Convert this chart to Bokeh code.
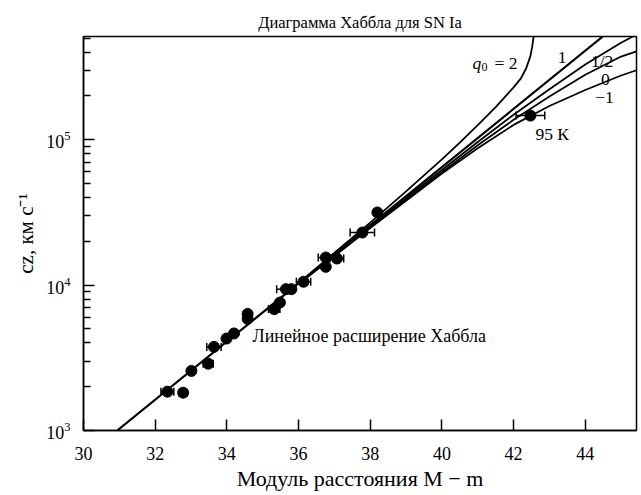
from bokeh.plotting import figure
from bokeh.models import Label, Whisker, ColumnDataSource, FixedTicker, TeeHead
from bokeh.embed import file_html
from bokeh.resources import INLINE

# ---- data ----
sn_mu = [32.34, 32.78, 33.01, 33.48, 33.64, 33.99, 34.20, 34.58, 34.58, 35.32,
         35.48, 35.65, 35.80, 36.14, 36.76, 36.76, 37.07, 37.78, 38.20, 42.47]
sn_cz = [1850, 1820, 2570, 2880, 3760, 4290, 4650, 6340, 5860, 6840,
         7590, 9380, 9380, 10550, 13360, 15490, 15240, 23000, 31600, 146600]
sn_err = [0.18, 0.11, 0, 0.14, 0.2, 0, 0, 0, 0, 0.16,
          0, 0.26, 0, 0.2, 0, 0.21, 0.19, 0.34, 0, 0.4]

# linear Hubble expansion (coincides with q0 = 1)
lin_mu = [30.94, 44.49]
lin_cz = [1000, 513000]

q_half_mu = [36, 38, 40, 41, 42, 43, 44, 45, 45.33]
q_half_cz = [10230, 25350, 61940, 96390, 148600, 222300, 328900, 464500, 512900]

q_zero_mu = [36, 38, 40, 41, 42, 43, 44, 45, 45.43]
q_zero_cz = [10210, 24950, 59840, 91620, 137100, 198200, 279900, 373300, 405500]

q_neg_mu = [36, 38, 40, 41, 42, 43, 44, 45, 45.43]
q_neg_cz = [10160, 24660, 58480, 87500, 126500, 170600, 219800, 276700, 300600]

q_two_mu = [36, 38, 39, 40, 40.5, 41, 41.5, 42, 42.2, 42.35, 42.47, 42.52, 42.56]
q_two_cz = [10330, 26920, 44160, 73280, 95500, 125900, 167900, 229100, 263000,
            309000, 375800, 436500, 512900]

x_ticks = [30, 32, 34, 36, 38, 40, 42, 44]
y_major = [1e3, 1e4, 1e5]
y_minor = [m * 10 ** e for e in (3, 4) for m in range(2, 10)] + [2e5, 3e5, 4e5, 5e5]

X0, X1 = 30, 45.43
Y0, Y1 = 1e3, 5.13e5

FONT = "Liberation Serif"

p = figure(width=641, height=495, x_range=(X0, X1), y_range=(Y0, Y1),
           y_axis_type="log", output_backend="svg", toolbar_location=None,
           min_border_left=83, min_border_right=5, min_border_top=36,
           min_border_bottom=65)
p.title.text = "Диаграмма Хаббла для SN Ia"
p.title.text_font = FONT
p.title.text_font_size = "16.5px"
p.title.text_font_style = "normal"
p.title.text_color = "black"
p.title.align = "center"
p.grid.visible = False
p.outline_line_color = "black"
p.outline_line_width = 1.5
p.outline_line_alpha = 1
p.background_fill_color = "white"
p.border_fill_color = "white"

p.xaxis.ticker = FixedTicker(ticks=x_ticks)
p.yaxis.ticker = FixedTicker(ticks=y_major, minor_ticks=y_minor)
for ax in (p.xaxis, p.yaxis):
    ax.axis_line_width = 1.5
    ax.axis_line_color = "black"
    ax.major_tick_in = 11
    ax.major_tick_out = 0
    ax.major_tick_line_width = 1.5
    ax.major_tick_line_color = "black"
    ax.major_label_text_font = FONT
    ax.major_label_text_font_size = "18px"
    ax.major_label_text_color = "black"
    ax.axis_label_text_font = FONT
    ax.axis_label_text_font_style = "normal"
    ax.axis_label_text_color = "black"
p.xaxis.axis_label_text_font_size = "22px"
p.yaxis.axis_label_text_font_size = "21px"
p.xaxis.minor_tick_line_color = None
p.xaxis.major_label_standoff = 16
p.xaxis.axis_label = "Модуль расстояния M − m"
p.xaxis.axis_label_standoff = 3
p.yaxis.minor_tick_in = 7
p.yaxis.minor_tick_out = 0
p.yaxis.minor_tick_line_width = 1.5
p.yaxis.minor_tick_line_color = "black"
p.yaxis.major_label_standoff = 13
p.yaxis.axis_label = "cz, км с⁻¹"
p.yaxis.axis_label_standoff = 5

# curves
p.line(lin_mu, lin_cz, line_color="black", line_width=2.2)
p.line(q_half_mu, q_half_cz, line_color="black", line_width=1.8)
p.line(q_zero_mu, q_zero_cz, line_color="black", line_width=1.8)
p.line(q_neg_mu, q_neg_cz, line_color="black", line_width=1.8)
p.line(q_two_mu, q_two_cz, line_color="black", line_width=1.8)

# error bars
eb = [(m, c, e) for m, c, e in zip(sn_mu, sn_cz, sn_err) if e > 0]
src_e = ColumnDataSource(dict(base=[c for _, c, _ in eb],
                              lower=[m - e for m, _, e in eb],
                              upper=[m + e for m, _, e in eb]))
w = Whisker(source=src_e, base="base", lower="lower", upper="upper",
            dimension="width", line_color="black", line_width=1.5,
            lower_head=TeeHead(size=8, line_width=1.5, line_color="black"),
            upper_head=TeeHead(size=8, line_width=1.5, line_color="black"))
p.add_layout(w)

p.scatter(sn_mu, sn_cz, marker="circle", size=11, fill_color="black",
          line_color="black")

def px2x(px):
    return X0 + (px - 83) / 35.84

def px2y(py):
    return 10 ** (3 + (429.5 - py) / 145.3)

def lab(x, y, text, size="17.5px", style="normal", align="left"):
    p.add_layout(Label(x=px2x(x), y=px2y(y), text=text, text_font=FONT,
                       text_font_size=size, text_font_style=style,
                       text_align=align, text_baseline="alphabetic",
                       text_color="black"))

# curve labels
lab(472, 62, "q", style="italic")
lab(481, 66, "0", size="12px")
lab(494, 62, "= 2")
lab(561.7, 57, "1", align="center")
lab(601.7, 60, "1/2", align="center")
lab(605, 79, "0", align="center")
lab(604, 97, "−1", align="center")
lab(535, 133, "95 К")
lab(252, 335, "Линейное расширение Хаббла", size="18px")

open("out.html", "w").write(file_html(p, INLINE))
